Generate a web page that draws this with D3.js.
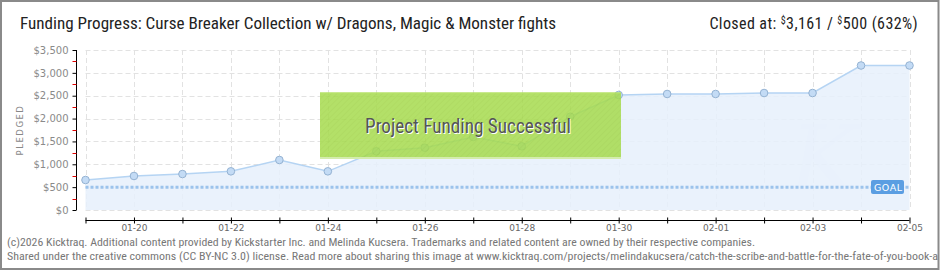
<!DOCTYPE html>
<html><head><meta charset="utf-8">
<script src="https://cdn.jsdelivr.net/npm/d3@7"></script>
<style>body{margin:0;background:#fff}svg{display:block}</style>
</head><body><svg id="c" width="940" height="270"></svg>
<script>
const dates = ["2026-01-19","2026-01-20","2026-01-21","2026-01-22","2026-01-23","2026-01-24","2026-01-25","2026-01-26","2026-01-27","2026-01-28","2026-01-29","2026-01-30","2026-01-31","2026-02-01","2026-02-02","2026-02-03","2026-02-04","2026-02-05"];
const pledged = [656,744,787,846,1094,846,1284,1363,1597,1393,2041,2516,2538,2538,2559,2559,3161,3161];
const goal = 500;
const yTicks = [0,500,1000,1500,2000,2500,3000,3500];
const yMinorTicks = [250,750,1250,1750,2250,2750,3250];
const titleText = "Funding Progress: Curse Breaker Collection w/ Dragons, Magic & Monster fights";
const footer1 = "(c)2026 Kicktraq. Additional content provided by Kickstarter Inc. and Melinda Kucsera. Trademarks and related content are owned by their respective companies.";
const footer2 = "Shared under the creative commons (CC BY-NC 3.0) license. Read more about sharing this image at www.kicktraq.com/projects/melindakucsera/catch-the-scribe-and-battle-for-the-fate-of-you-book-a";

const svg = d3.select("#c");
const parse = d3.timeParse("%Y-%m-%d");
const data = dates.map((d,i)=>({date:parse(d), v:pledged[i]}));
const x = d3.scaleTime().domain(d3.extent(data,d=>d.date)).range([85.5,909.5]);
const y = d3.scaleLinear().domain([0,3500]).range([210,50]);
const narrow = "'Roboto Condensed','Liberation Sans Narrow','Roboto',sans-serif";

// border
svg.append("rect").attr("x",1).attr("y",1).attr("width",937.5).attr("height",268).attr("fill","#fff").attr("stroke","#8a8a8a").attr("stroke-width",2);

// title
svg.append("text").attr("x",20).attr("y",29).attr("font-family",narrow).attr("font-size",16).attr("fill","#222")
  .attr("textLength",536).attr("lengthAdjust","spacingAndGlyphs").text(titleText);
const rt = svg.append("text").attr("x",918).attr("y",29).attr("text-anchor","end").attr("font-family",narrow).attr("font-size",16).attr("letter-spacing",0.4).attr("fill","#222");
rt.append("tspan").text("Closed at:  ");
rt.append("tspan").attr("font-size",10).attr("dy",-5).text("$");
rt.append("tspan").attr("dy",5).text("3,161 /  ");
rt.append("tspan").attr("font-size",10).attr("dy",-5).text("$");
rt.append("tspan").attr("dy",5).text("500 (632%)");

// grid
const g = svg.append("g");
g.selectAll(".hg").data(yTicks).join("line").attr("x1",85.5).attr("x2",909.5)
  .attr("y1",d=>Math.round(y(d))+0.5).attr("y2",d=>Math.round(y(d))+0.5)
  .attr("stroke","#e2e2e2").attr("stroke-dasharray","5,3");
g.selectAll(".vg").data(data).join("line").attr("x1",d=>Math.round(x(d.date))+0.5).attr("x2",d=>Math.round(x(d.date))+0.5)
  .attr("y1",50).attr("y2",210).attr("stroke","#e2e2e2").attr("stroke-dasharray","5,3");

// watermark
svg.append("text").attr("x",790).attr("y",190).attr("font-family","'DejaVu Serif',serif").attr("font-style","italic")
  .attr("font-size",90).attr("fill","#e3ebf4").attr("opacity",0.4).text("K");

// area + line
svg.append("path").datum(data).attr("d",d3.area().x(d=>x(d.date)).y0(y(0)).y1(d=>y(d.v)))
  .attr("fill","#e6f0fb").attr("opacity",0.85);
svg.append("path").datum(data).attr("d",d3.line().x(d=>x(d.date)).y(d=>y(d.v)))
  .attr("fill","none").attr("stroke","#b5d4f3").attr("stroke-width",1.5);

// goal line
svg.append("line").attr("x1",85.5).attr("x2",909.5).attr("y1",y(goal)).attr("y2",y(goal))
  .attr("stroke","#9cc3ec").attr("stroke-width",3).attr("stroke-dasharray","3,2");

// points
svg.selectAll(".pt").data(data).join("circle").attr("cx",d=>x(d.date)).attr("cy",d=>y(d.v)).attr("r",3.8)
  .attr("fill","#c3dbf5").attr("stroke","#94b2d2").attr("stroke-width",1);

// goal label
svg.append("rect").attr("x",871).attr("y",180).attr("width",33).attr("height",14).attr("rx",2).attr("fill","#5b9ee2");
svg.append("text").attr("x",874).attr("y",191).attr("font-family","'DejaVu Sans',sans-serif").attr("font-size",9.5)
  .attr("fill","#fff").attr("letter-spacing",0.5).text("GOAL");

// y axis
const ya = svg.append("g").attr("transform","translate(76.5,0)")
  .call(d3.axisLeft(y).tickValues(yTicks).tickSize(4).tickPadding(4).tickFormat(d=>"$"+d3.format(",")(d)));
ya.select(".domain").attr("stroke","#000").attr("d","M0,50V210");
ya.selectAll(".tick line").attr("stroke","#000");
ya.selectAll("text").attr("font-family","'DejaVu Sans',sans-serif").attr("font-size",10).attr("fill","#8a8a8a");
svg.append("g").selectAll("line").data(yMinorTicks).join("line").attr("x1",72.5).attr("x2",76.5)
  .attr("y1",d=>Math.round(y(d))+0.5).attr("y2",d=>Math.round(y(d))+0.5).attr("stroke","#e00000");
svg.append("text").attr("transform","translate(23,130) rotate(-90)").attr("text-anchor","middle")
  .attr("font-family","'DejaVu Sans',sans-serif").attr("font-size",8.5).attr("letter-spacing",1.5).attr("fill","#888").text("PLEDGED");

// x axis
const fmt = d3.timeFormat("%m-%d");
const xa = svg.append("g").attr("transform","translate(0,220.5)")
  .call(d3.axisBottom(x).tickValues(data.map(d=>d.date)).tickSize(3).tickPadding(1).tickFormat((d,i)=> i%2===1 ? fmt(d) : ""));
xa.select(".domain").attr("stroke","#000").attr("d","M85.5,0H909.5");
xa.selectAll(".tick line").attr("stroke","#000").attr("y1",-3).attr("y2",3);
xa.selectAll("text").attr("font-family","'DejaVu Sans',sans-serif").attr("font-size",9).attr("fill","#666");

// success banner
const defs = svg.append("defs");
const pat = defs.append("pattern").attr("id","hatch").attr("width",4).attr("height",4).attr("patternUnits","userSpaceOnUse").attr("patternTransform","rotate(45)");
pat.append("rect").attr("width",4).attr("height",4).attr("fill","#a6db4d");
pat.append("line").attr("x1",0).attr("y1",0).attr("x2",0).attr("y2",4).attr("stroke","#9fd246").attr("stroke-width",1.5);
svg.append("rect").attr("x",320).attr("y",92.5).attr("width",301).attr("height",66).attr("fill","url(#hatch)").attr("opacity",0.85);
svg.append("line").attr("x1",320).attr("x2",621).attr("y1",158).attr("y2",158).attr("stroke","#d4ecad").attr("stroke-width",2);
svg.append("line").attr("x1",320).attr("x2",621).attr("y1",93).attr("y2",93).attr("stroke","#b8e36a").attr("stroke-width",1);
svg.append("text").attr("x",366).attr("y",133.5).attr("font-family",narrow).attr("font-size",20).attr("fill","#fff")
  .attr("textLength",206).attr("lengthAdjust","spacingAndGlyphs").text("Project Funding Successful");
svg.append("text").attr("x",365).attr("y",132.5).attr("font-family",narrow).attr("font-size",20).attr("fill","#555")
  .attr("textLength",206).attr("lengthAdjust","spacingAndGlyphs").text("Project Funding Successful");

// footer
svg.append("text").attr("x",7).attr("y",246).attr("font-family",narrow).attr("font-size",10).attr("fill","#777")
  .attr("textLength",748).attr("lengthAdjust","spacingAndGlyphs").text(footer1);
svg.append("text").attr("x",7).attr("y",260).attr("font-family",narrow).attr("font-size",10).attr("fill","#777")
  .attr("textLength",931).attr("lengthAdjust","spacingAndGlyphs").text(footer2);
</script></body></html>
